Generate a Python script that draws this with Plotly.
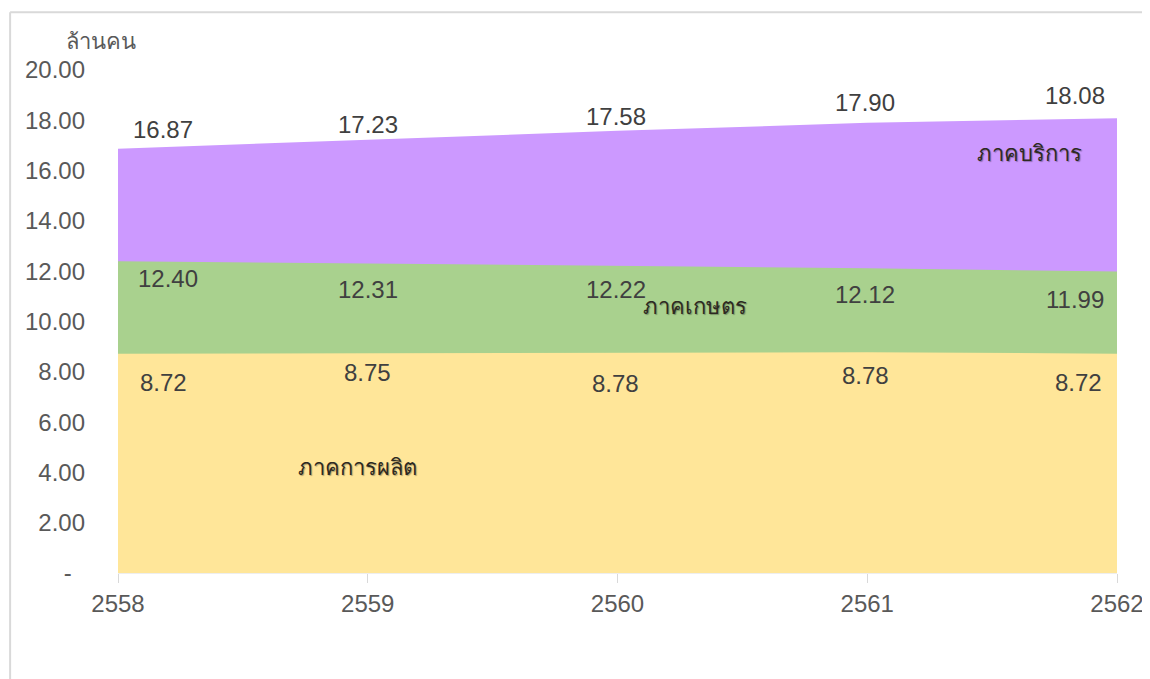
import plotly.graph_objects as go

years = [2558, 2559, 2560, 2561, 2562]
services = [16.87, 17.23, 17.58, 17.90, 18.08]
agriculture = [12.40, 12.31, 12.22, 12.12, 11.99]
manufacturing = [8.72, 8.75, 8.78, 8.78, 8.72]
series_names = ["ภาคบริการ", "ภาคเกษตร", "ภาคการผลิต"]
y_ticks = [0, 2, 4, 6, 8, 10, 12, 14, 16, 18, 20]
y_tick_text = ["-\u00a0\u00a0"] + [f"{v:.2f}" for v in y_ticks[1:]]

colors = ["#CC99FF", "#A9D18E", "#FFE699"]
FONT = "Liberation Sans, Arial, sans-serif"

fig = go.Figure()
for name, vals, col in zip(series_names, [services, agriculture, manufacturing], colors):
    fig.add_trace(go.Scatter(x=years, y=vals, name=name, mode="lines",
                             line=dict(width=0, color=col), fill="tozeroy",
                             fillcolor=col, hoverinfo="x+y"))

# data-label offsets (pixels)
xs = [[45, 0, -2, -2, -42], [50, 0, -2, -2, -42], [45, 0, -2, -2, -39]]
ys = [[19, 15, 14, 20, 23], [-17, -26, -24, -26, -28], [-29, -20, -31, -23, -29]]
annotations = []
for si, vals in enumerate([services, agriculture, manufacturing]):
    for i, (x, v) in enumerate(zip(years, vals)):
        annotations.append(dict(x=x, y=v, text=f"{v:.2f}", showarrow=False,
                                xshift=xs[si][i], yshift=ys[si][i],
                                font=dict(size=24, color="#404040", family=FONT)))

# series labels
name_pos = [(2561.65, 16.7), (2560.31, 10.58), (2558.96, 4.21)]
for name, (x, y) in zip(series_names, name_pos):
    annotations.append(dict(x=x, y=y, text=name, showarrow=False,
                            font=dict(size=22, color="#2e2a22", family=FONT,
                                      shadow="1px 1px 1px rgba(0,0,0,0.3)")))

annotations.append(dict(xref="paper", yref="paper", x=-0.054, y=1.028,
                        text="ล้านคน", showarrow=False, xanchor="left", yanchor="bottom",
                        font=dict(size=22, color="#595959", family=FONT)))

fig.update_layout(
    width=1142, height=671,
    margin=dict(l=110, r=33, t=62, b=106),
    paper_bgcolor="white", plot_bgcolor="white",
    showlegend=False,
    font=dict(family=FONT, color="#595959", size=24),
    annotations=annotations,
    shapes=[
        dict(type="line", xref="paper", yref="paper", x0=-0.108, x1=-0.108, y0=-0.3, y1=1.115,
             line=dict(color="#d9d9d9", width=2)),
        dict(type="line", xref="paper", yref="paper", x0=-0.108, x1=1.05, y0=1.115, y1=1.115,
             line=dict(color="#d9d9d9", width=2)),
    ],
)
fig.update_xaxes(range=[2558, 2562], tickvals=years, ticktext=[str(y) for y in years],
                 showgrid=False, zeroline=False, showline=True, linecolor="#eeeeee",
                 ticks="outside", ticklen=9, tickcolor="#d9d9d9", automargin=False,
                 tickfont=dict(size=24, color="#595959"))
fig.update_yaxes(range=[0, 20], tickvals=y_ticks, ticktext=y_tick_text,
                 showgrid=False, zeroline=False, showline=False, ticks="",
                 ticklabelstandoff=32, automargin=False,
                 tickfont=dict(size=24, color="#595959"))

fig.write_html("out.html")
